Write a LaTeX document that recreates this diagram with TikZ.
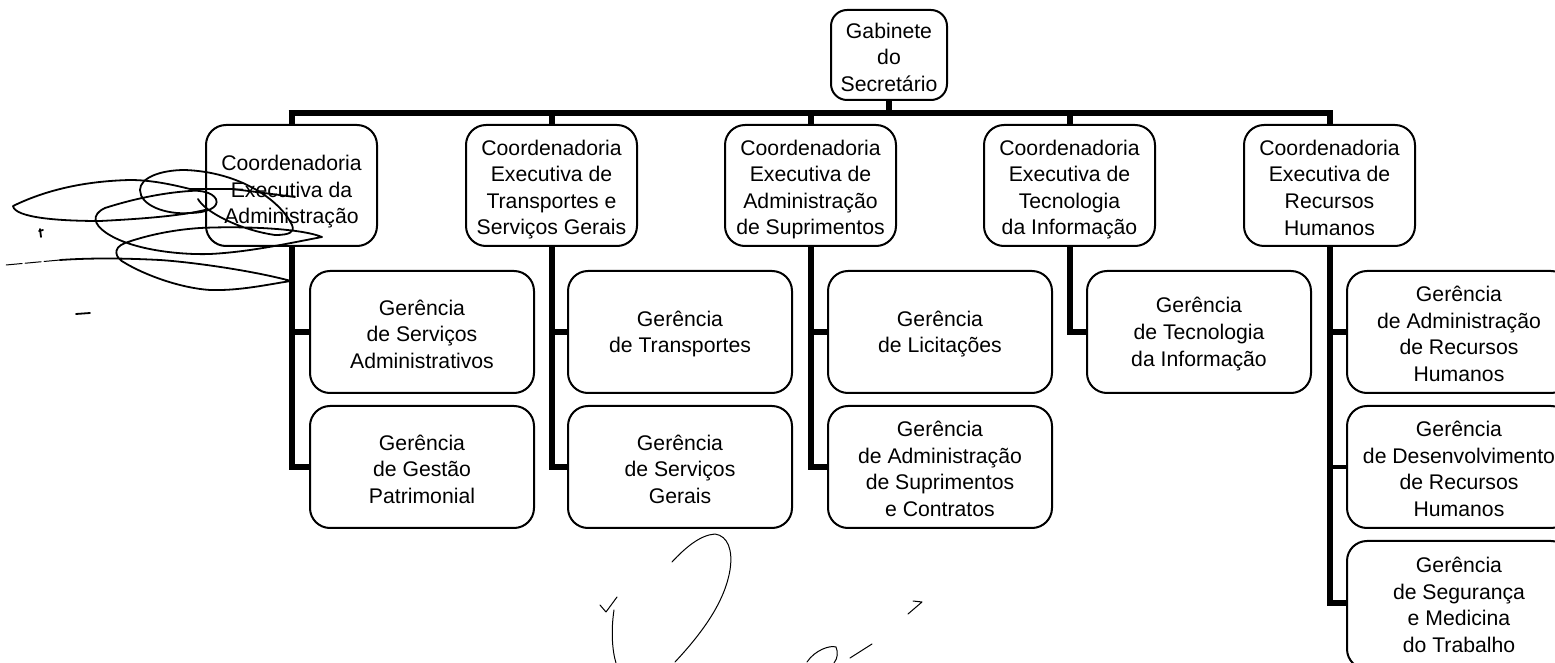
\documentclass[tikz,border=0pt]{standalone}
\usepackage{fontspec}
\setmainfont{Liberation Sans}
\newcommand{\padtop}{\rule{0pt}{9.8pt}}
\newcommand{\padc}{\rule{0pt}{11.8pt}}
\newcommand{\padlow}{\rule{0pt}{13.8pt}}
\newcommand{\padg}{\rule{0pt}{9.8pt}}
\tikzset{
  orgbox/.style={draw=black,line width=1pt,rounded corners=10pt,align=center,inner sep=0pt,
     font=\fontsize{10.6}{13.3}\selectfont},
  topbox/.style={orgbox,minimum width=58pt,minimum height=45pt,rounded corners=8pt},
  coordbox/.style={orgbox,minimum width=85.5pt,minimum height=60.5pt},
  gerbox/.style={orgbox,minimum width=112pt,minimum height=61pt},
  bus/.style={line width=3pt,line cap=butt,line join=miter},
  scribble/.style={line width=0.9pt,line cap=round,line join=round},
  thinscribble/.style={line width=0.5pt,line cap=round,line join=round}
}
\begin{document}
\begin{tikzpicture}[x=0.5pt,y=-0.5pt]
\useasboundingbox (0,0) rectangle (1555,663);
\clip (0,0) rectangle (1555,663);
% nodes
\node[topbox] (gab) at (889,55) {\padtop Gabinete\\do\\Secretário};
\coordinate (busy) at (889,113);
\node[coordbox] (c1) at (291.5,185.5) {\padlow Coordenadoria\\Executiva da\\Administração};
\node[coordbox] (c2) at (551.5,185.5) {\padc Coordenadoria\\Executiva de\\Transportes e\\Serviços Gerais};
\node[coordbox] (c3) at (810.5,185.5) {\padc Coordenadoria\\Executiva de\\Administração\\de Suprimentos};
\node[coordbox] (c4) at (1069.5,185.5) {\padc Coordenadoria\\Executiva de\\Tecnologia\\da Informação};
\node[coordbox] (c5) at (1329.5,185.5) {\padtop Coordenadoria\\Executiva de\\Recursos\\Humanos};
\node[gerbox] (g11) at (422,332) {\padg Gerência\\de Serviços\\Administrativos};
\node[gerbox] (g12) at (422,467) {\padg Gerência\\de Gestão\\Patrimonial};
\node[gerbox] (g21) at (680,332) {\padg Gerência\\de Transportes};
\node[gerbox] (g22) at (680,467) {\padg Gerência\\de Serviços\\Gerais};
\node[gerbox] (g31) at (940,332) {\padg Gerência\\de Licitações};
\node[gerbox] (g32) at (940,467) {\padg Gerência\\de Administração\\de Suprimentos\\e Contratos};
\node[gerbox] (g41) at (1199,332) {\padg Gerência\\de Tecnologia\\da Informação};
\node[gerbox] (g51) at (1459,332) {\padg Gerência\\de Administração\\de Recursos\\Humanos};
\node[gerbox] (g52) at (1459,467) {\padg Gerência\\de Desenvolvimento\\de Recursos\\Humanos};
\node[gerbox,minimum height=64pt] (g53) at (1459,605) {Gerência\\de Segurança\\e Medicina\\do Trabalho};
% connectors
\draw[bus] (gab.south) -- (busy);
\draw[bus] ([xshift=-1.5pt]c1.north |- busy) -- ([xshift=1.5pt]c5.north |- busy);
\foreach \c in {c1,c2,c3,c4,c5} \draw[bus] (\c.north |- busy) -- (\c.north);
\draw[bus] (c1.south) -- (c1.south |- g12.west) -- (g12.west);
\draw[bus] (c1.south |- g11.west) -- (g11.west);
\draw[bus] (c2.south) -- (c2.south |- g22.west) -- (g22.west);
\draw[bus] (c2.south |- g21.west) -- (g21.west);
\draw[bus] (c3.south) -- (c3.south |- g32.west) -- (g32.west);
\draw[bus] (c3.south |- g31.west) -- (g31.west);
\draw[bus] (c4.south) -- (c4.south |- g41.west) -- (g41.west);
\draw[bus] (c5.south) -- ([yshift=1pt]c5.south |- g53.west) -- ([yshift=1pt]g53.west);
\draw[bus] (c5.south |- g51.west) -- (g51.west);
\draw[bus,line width=2pt] (c5.south |- g52.west) -- (g52.west);
% pen scribbles
\draw[scribble] (295,197) -- (233,189) -- (190,189) .. controls (170,184) and (150,180) .. (130,180)
  .. controls (90,181) and (50,188) .. (13,206) .. controls (15,218) and (60,221) .. (100,221)
  .. controls (140,219) and (180,216) .. (205,210);
\draw[scribble] (198,199) .. controls (205,212) and (240,230) .. (275,235)
  .. controls (290,235) and (295,232) .. (292,225) .. controls (280,200) and (240,172) .. (185,170)
  .. controls (160,170) and (140,178) .. (140,190) .. controls (140,205) and (165,215) .. (190,213)
  .. controls (205,213) and (220,208) .. (216,199) .. controls (212,192) and (200,190) .. (190,191)
  .. controls (160,193) and (130,200) .. (105,208) .. controls (90,215) and (95,225) .. (105,232)
  .. controls (130,250) and (180,255) .. (210,254) .. controls (250,252) and (290,243) .. (322,237)
  .. controls (300,228) and (240,226) .. (200,228) .. controls (170,230) and (145,236) .. (125,243)
  .. controls (112,248) and (115,258) .. (125,263) .. controls (145,275) and (180,288) .. (210,290)
  .. controls (240,291) and (270,284) .. (291,281) .. controls (250,270) and (190,262) .. (160,260)
  .. controls (120,258) and (90,258) .. (60,260);
\draw[scribble,dash pattern=on 8pt off 1.5pt,line width=0.5pt] (60,260) -- (6,265);
\draw[scribble] (40,229) -- (41,237);
\draw[scribble] (39,231) -- (43,230);
\draw[scribble] (76,314) -- (90,313);
\draw[thinscribble] (672,562) .. controls (685,548) and (700,535) .. (715,534)
  .. controls (728,536) and (733,550) .. (730,570) .. controls (725,600) and (705,630) .. (675,662);
\draw[thinscribble] (600,605) -- (606,612) -- (617,597);
\draw[thinscribble] (614,610) .. controls (611,630) and (612,650) .. (616,663);
\draw[thinscribble] (908,614) -- (922,602) -- (913,601);
\draw[thinscribble] (807,662) .. controls (815,650) and (830,645) .. (836,647) .. controls (838,652) and (838,658) .. (834,663);
\draw[thinscribble] (850,658) -- (872,644);
\end{tikzpicture}
\end{document}
